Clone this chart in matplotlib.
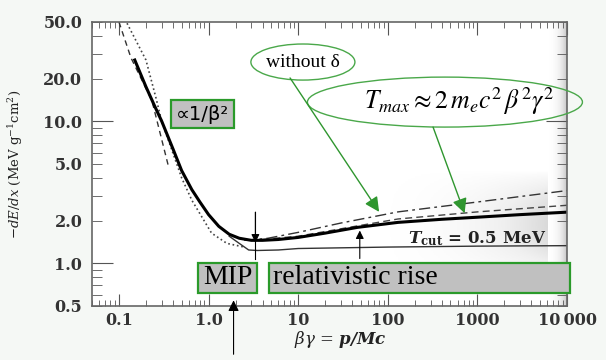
import numpy as np
import matplotlib
matplotlib.use("Agg")
import matplotlib.pyplot as plt
from matplotlib.patches import Rectangle, Ellipse

plt.rcParams['mathtext.fontset'] = 'dejavuserif'

# Bethe curve (with density effect)
bg_main = [0.15, 0.2, 0.25, 0.3, 0.4, 0.5, 0.65, 0.8, 1.0, 1.3, 1.7, 2.2, 3.0, 4.0, 6.0,
           10, 20, 46, 130, 400, 1000, 3000, 10000]
dedx_main = [27, 17.5, 12.8, 10, 6.4, 4.5, 3.3, 2.7, 2.2, 1.82, 1.6, 1.5, 1.45, 1.45, 1.47,
             1.52, 1.63, 1.79, 1.94, 2.04, 2.11, 2.2, 2.29]

# without delta (dash-dot)
bg_nodelta = [2.5, 4.6, 10, 30, 130, 1000, 10000]
dedx_nodelta = [1.45, 1.5, 1.65, 1.92, 2.3, 2.7, 3.25]

# dashed
bg_dash = [3, 10, 50, 130, 1000, 10000]
dedx_dash = [1.45, 1.55, 1.85, 2.05, 2.3, 2.56]

# restricted, T_cut = 0.5 MeV
bg_cut = [1.7, 2.2, 2.8, 3.5, 6, 10, 100, 1000, 10000]
dedx_cut = [1.55, 1.38, 1.24, 1.23, 1.24, 1.27, 1.3, 1.32, 1.33]

# low energy approximations
bg_dot = [0.123, 0.2, 0.258, 0.3, 0.5, 0.65, 1.08, 1.6, 2.5]
dedx_dot = [49, 27, 14.7, 10, 4.0, 2.78, 1.63, 1.38, 1.3]
bg_low = [0.1, 0.136, 0.233, 0.36]
dedx_low = [50, 28, 14, 4.7]

xticks = [0.1, 1, 10, 100, 1000, 10000]
xlabels = ['0.1', '1.0', '10', '100', '1000', '10\u2009000']
ylabels = {0.5: '0.5', 1: '1.0', 2: '2.0', 5: '5.0', 10: '10.0', 20: '20.0', 50: '50.0'}

fig = plt.figure(figsize=(6.06, 3.6), dpi=100, facecolor='#f5f8f5')
ax = fig.add_axes([92/606, 54/360, 475/606, 284/360])
ax.set_facecolor('white')

# scan-like grey shading near the right edge
gx = np.linspace(0, 1, 256)[None, :] ** 2.5
gy = np.sin(np.linspace(0, np.pi, 64))[:, None] ** 0.8
ax.imshow(gx * gy, extent=[0.55, 1.0, 0.1, 0.48], transform=ax.transAxes, cmap='Greys',
          vmin=0, vmax=3.2, aspect='auto', zorder=0, interpolation='bilinear')
ax.imshow(np.linspace(0, 1, 64)[None, :] ** 2, extent=[0.96, 1.0, 0.0, 1.0],
          transform=ax.transAxes, cmap='Greys', vmin=0, vmax=3.0, aspect='auto', zorder=0,
          interpolation='bilinear')

ax.plot(bg_low, dedx_low, color='#333333', lw=1, dashes=(4, 3))
ax.plot(bg_dot, dedx_dot, color='#444444', lw=1.2, linestyle=':')
ax.plot(bg_cut, dedx_cut, color='#333333', lw=1)
ax.plot(bg_dash, dedx_dash, color='#444444', lw=1, dashes=(5, 3))
ax.plot(bg_nodelta, dedx_nodelta, color='#333333', lw=1, dashes=(8, 3, 2, 3))
ax.plot(bg_main, dedx_main, color='black', lw=2.2)

ax.set_xscale('log')
ax.set_yscale('log')
ax.set_xlim(0.05, 10000)
ax.set_ylim(0.5, 50)

ax.set_xticks(xticks, labels=xlabels)
ax.set_xticks([m * 10.0**e for e in range(-2, 4) for m in range(2, 10)
               if 0.05 <= m * 10.0**e <= 10000], minor=True)
ymin = [m * 10.0**e for e in range(-1, 2) for m in range(2, 10) if 0.5 <= m * 10.0**e <= 50]
ax.set_yticks([1, 10], labels=['1.0', '10.0'])
ax.set_yticks(ymin, labels=[ylabels.get(round(v, 3), '') for v in ymin], minor=True)
ax.tick_params(which='both', direction='in', top=True, right=True, color='#555555',
               labelsize=11.5, labelcolor='#333333')
ax.tick_params(axis='y', which='major', length=15, pad=7)
ax.tick_params(axis='y', which='minor', length=7, pad=7)
ax.tick_params(axis='x', which='major', length=9, pad=4)
ax.tick_params(axis='x', which='minor', length=4, pad=4)
for lab in ax.get_xticklabels() + ax.get_yticklabels(which='both'):
    lab.set_fontfamily('DejaVu Serif')
    lab.set_fontweight('bold')
for s in ax.spines.values():
    s.set_color('#666666')
    s.set_linewidth(1.2)

ax.set_ylabel(r'$-dE/dx$ (MeV g$^{-1}$cm$^{2}$)', fontfamily='DejaVu Serif', fontsize=9.5,
              color='#222222')
ax.yaxis.set_label_coords(-0.141, 0.5)
fig.text(0.561, 0.058, r'$\beta\gamma$ = $\mathbfit{p/Mc}$', ha='center', va='center',
         fontfamily='DejaVu Serif', fontsize=12, color='#222222')

# boxes
green = '#2a9a2a'
box = dict(facecolor='#c0c0c0', edgecolor=green, lw=1.6, clip_on=False, zorder=4)
ax.add_patch(Rectangle((0.378, 8.93), 1.9 - 0.378, 14.1 - 8.93, **box))
ax.add_patch(Rectangle((0.77, 0.615), 3.49 - 0.77, 1.0 - 0.615, **box))
ax.add_patch(Rectangle((4.78, 0.615), 10800 - 4.78, 1.0 - 0.615, **box))
ax.text(np.sqrt(0.378 * 1.9), np.sqrt(8.93 * 14.1), '∝1/β²', ha='center', va='center',
        fontsize=14, fontfamily='DejaVu Sans', zorder=5)
ax.text(np.sqrt(0.77 * 3.49), 0.79, 'MIP', ha='center', va='center',
        fontsize=20, fontfamily='Liberation Serif', zorder=5)
ax.text(5.3, 0.79, 'relativistic rise', ha='left', va='center',
        fontsize=20, fontfamily='Liberation Serif', zorder=5)

# ellipses
ell = dict(transform=ax.transAxes, fill=False, edgecolor='#4aa84a', lw=1, clip_on=False, zorder=5)
ax.add_patch(Ellipse((0.444, 0.859), 0.219, 0.127, **ell))
ax.add_patch(Ellipse((0.743, 0.718), 0.579, 0.176, **ell))
ax.text(0.444, 0.859, 'without δ', transform=ax.transAxes, ha='center', va='center',
        fontsize=14, fontfamily='Liberation Serif', zorder=6)
plt.rcParams['mathtext.fontset'] = 'stix'
ax.text(0.772, 0.72, r'$T_{max} \approx 2\,m_e c^2\, \beta^2 \gamma^2$', transform=ax.transAxes,
        ha='center', va='center', fontsize=18.5, zorder=6)
plt.rcParams['mathtext.fontset'] = 'dejavuserif'

# green arrows
garrow = dict(arrowstyle='-|>', color='#2f962f', lw=1, mutation_scale=22, shrinkA=0, shrinkB=0)
ax.annotate('', xy=(80, 2.3), xytext=(0.417, 0.803), textcoords='axes fraction',
            arrowprops=garrow, zorder=6)
ax.annotate('', xy=(720, 2.25), xytext=(0.718, 0.630), textcoords='axes fraction',
            arrowprops=garrow, zorder=6)

# black arrows
karrow = dict(arrowstyle='-|>', color='black', lw=0.8, mutation_scale=12, shrinkA=0, shrinkB=0)
ax.plot([3.33, 3.33], [2.29, 1.08], color='black', lw=0.8)
ax.annotate('', xy=(3.33, 1.4), xytext=(3.33, 2.29), arrowprops=karrow)
ax.annotate('', xy=(48.7, 1.7), xytext=(48.7, 1.08), arrowprops=karrow)
ax.annotate('', xy=(1.9, 0.02), xycoords=('data', 'axes fraction'),
            xytext=(1.9, -0.17), textcoords=('data', 'axes fraction'),
            arrowprops=dict(arrowstyle='-|>', color='black', lw=0.8, mutation_scale=16,
                            shrinkA=0, shrinkB=0), annotation_clip=False)

ax.text(166, 1.5, r'$\mathbfit{T}_{\mathbf{cut}}$ = 0.5 MeV', ha='left', va='center',
        fontsize=12, fontfamily='DejaVu Serif', fontweight='bold', color='#222222', zorder=5)

fig.savefig('out.png', dpi=100, facecolor=fig.get_facecolor())
